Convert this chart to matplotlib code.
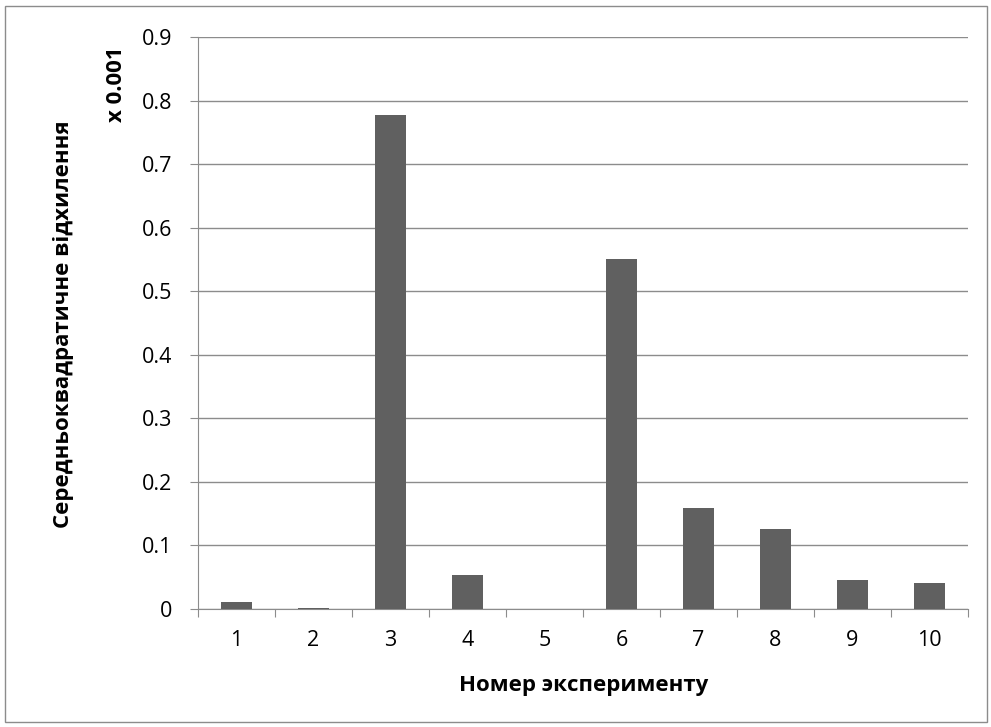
import numpy as np
import matplotlib.pyplot as plt
from matplotlib.patches import Rectangle

# data
experiments = ['1', '2', '3', '4', '5', '6', '7', '8', '9', '10']
rms_dev = [0.011, 0.002, 0.778, 0.053, 0.0, 0.550, 0.159, 0.126, 0.045, 0.041]
y_ticks = [0, 0.1, 0.2, 0.3, 0.4, 0.5, 0.6, 0.7, 0.8, 0.9]

plt.rcParams['font.family'] = ['Open Sans', 'DejaVu Sans']

fig = plt.figure(figsize=(9.91, 7.27), dpi=100)
ax = fig.add_axes([198 / 991, 1 - 609 / 727, 770 / 991, 572 / 727])

x = np.arange(len(experiments))
ax.bar(x, rms_dev, width=0.4, color='#606060', zorder=3)

ax.set_xlim(-0.5, len(experiments) - 0.5)
ax.set_ylim(0, 0.9)
ax.set_yticks(y_ticks)
ax.set_yticklabels([('%g' % v) if v else '0' for v in y_ticks], fontsize=15.5)
ax.yaxis.grid(True, color='#8c8c8c', linewidth=1, zorder=0)

# x ticks between categories, labels centered
ax.set_xticks(np.arange(-0.5, len(experiments) + 0.5, 1))
ax.set_xticklabels([])
ax.set_xticks(x, minor=True)
ax.set_xticklabels(experiments, minor=True, fontsize=15.5)
ax.tick_params(axis='x', which='minor', length=0, pad=15)
ax.tick_params(axis='x', which='major', length=6, color='#8c8c8c')
ax.tick_params(axis='y', length=6, color='#8c8c8c', pad=12.5)

for s in ['top', 'right']:
    ax.spines[s].set_visible(False)
for s in ['left', 'bottom']:
    ax.spines[s].set_color('#8c8c8c')

fig.text(64 / 991, 1 - 324 / 727, 'Середньоквадратичне відхилення', rotation=90,
         ha='center', va='center', fontsize=16, fontweight='bold')
fig.text(117 / 991, 1 - 84 / 727, 'x 0.001', rotation=90,
         ha='center', va='center', fontsize=16, fontweight='bold')
fig.text(584 / 991, 1 - 686 / 727, 'Номер эксперименту',
         ha='center', va='center', fontsize=16, fontweight='bold')

fig.patches.append(Rectangle((5 / 991, 1 - 722 / 727), 982 / 991, 716 / 727,
                             transform=fig.transFigure, fill=False,
                             edgecolor='#8c8c8c', linewidth=1))

fig.savefig('out.png', dpi=100)
